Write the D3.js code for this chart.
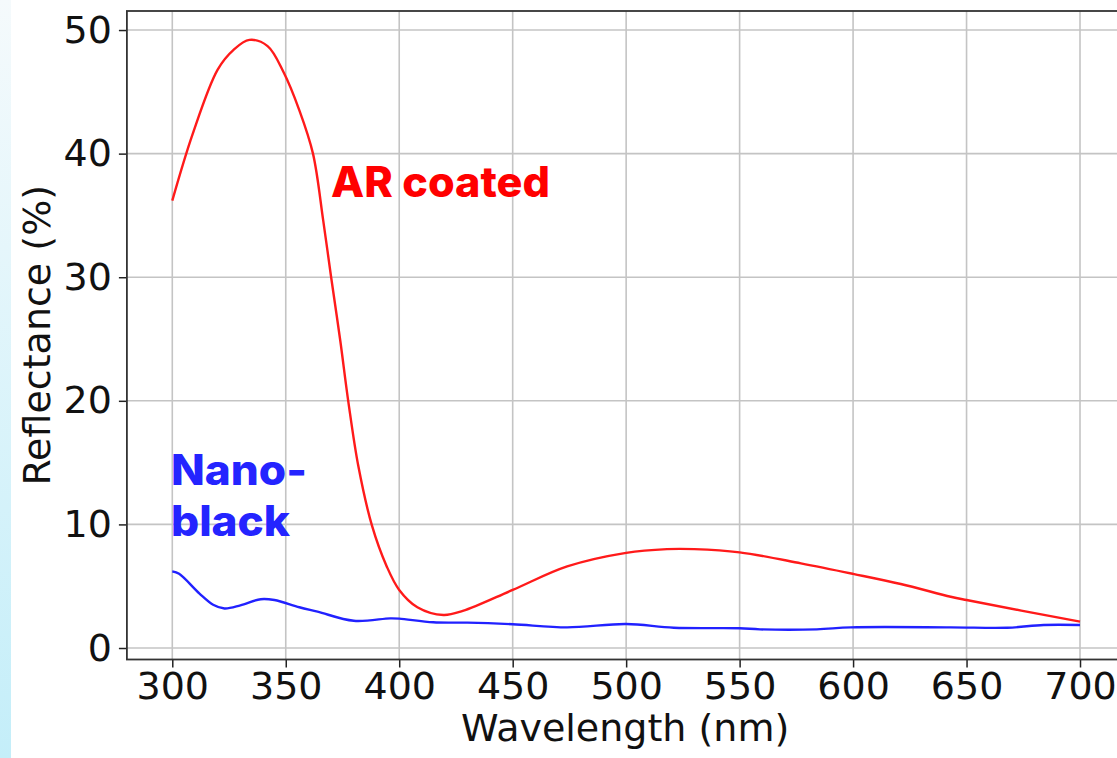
<!DOCTYPE html>
<html><head><meta charset="utf-8">
<script src="https://cdn.jsdelivr.net/npm/d3@7"></script>
<style>html,body{margin:0;padding:0;background:#fff;overflow:hidden}</style>
</head><body>
<svg id="chart" width="1117" height="758"></svg>
<script>
// Data
const arWavelength = [300,309,320,327,334,342,349,356,362,366.5,370,374,377.6,382,388,394.5,400,408,419.5,428,450,474,500,518,530,550,577,600,621,643,650,700];
const arReflect    = [36.2,41.6,46.8,48.4,49.2,48.7,46.6,43.5,40.0,34.6,30.0,24.9,19.9,14.7,9.9,6.6,4.7,3.3,2.67,3.0,4.7,6.6,7.7,8.0,8.0,7.74,6.85,6.0,5.18,4.15,3.88,2.13];
const nbWavelength = [300,303,312,318,323,330,339,345,356,364,380,396,400,415,430,450,474,500,521,550,559,584,599,643,668,684,700];
const nbReflect    = [6.2,6.0,4.4,3.5,3.2,3.45,3.95,3.88,3.3,2.94,2.2,2.4,2.38,2.08,2.05,1.92,1.67,1.94,1.64,1.6,1.51,1.51,1.67,1.67,1.64,1.86,1.86];
const xTicks = [300,350,400,450,500,550,600,650,700];
const yTicks = [0,10,20,30,40,50];
const labels = {x:"Wavelength (nm)", y:"Reflectance (%)", ar:"AR coated", nb1:"Nano-", nb2:"black"};

const svg = d3.select("#chart");
const defs = svg.append("defs");
const grad = defs.append("linearGradient").attr("id","strip").attr("x1",0).attr("y1",0).attr("x2",0).attr("y2",1);
grad.append("stop").attr("offset","0%").attr("stop-color","#f5fafc");
grad.append("stop").attr("offset","100%").attr("stop-color","#c4eef9");
svg.append("rect").attr("x",0).attr("y",0).attr("width",11).attr("height",758).attr("fill","url(#strip)");

const L = 126.9, R = 1125.4, T = 11, B = 659.5;
const x = d3.scaleLinear().domain([280,720]).range([L,R]);
const y = d3.scaleLinear().domain([-0.93,51.54]).range([B,T]);

const font = "'DejaVu Sans', sans-serif";
const fs = 38;

// grid
svg.append("g").selectAll("line").data(xTicks).join("line")
  .attr("x1",d=>x(d)).attr("x2",d=>x(d)).attr("y1",T).attr("y2",B)
  .attr("stroke","#c4c4c4").attr("stroke-width",1.6);
svg.append("g").selectAll("line").data(yTicks).join("line")
  .attr("x1",L).attr("x2",R).attr("y1",d=>y(d)).attr("y2",d=>y(d))
  .attr("stroke","#c4c4c4").attr("stroke-width",1.6);

// axes
const xAxis = d3.axisBottom(x).tickValues(xTicks).tickSize(8).tickPadding(5).tickSizeOuter(0);
const yAxis = d3.axisLeft(y).tickValues(yTicks).tickSize(8).tickPadding(7).tickSizeOuter(0);
const gx = svg.append("g").attr("transform",`translate(0,${B})`).call(xAxis);
const gy = svg.append("g").attr("transform",`translate(${L},0)`).call(yAxis);
[gx,gy].forEach(g=>{
  g.select(".domain").remove();
  g.selectAll(".tick line").attr("stroke","#222").attr("stroke-width",1.5);
  g.selectAll(".tick text").attr("font-family",font).attr("font-size",fs).attr("fill","#111");
});

// frame
svg.append("rect").attr("x",L).attr("y",T).attr("width",R-L).attr("height",B-T)
  .attr("fill","none").attr("stroke","#333").attr("stroke-width",1.8);

// lines
const line = d3.line().curve(d3.curveCatmullRom.alpha(0.5));
svg.append("path").attr("d", line(arWavelength.map((w,i)=>[x(w),y(arReflect[i])])))
  .attr("fill","none").attr("stroke","#ff1a1a").attr("stroke-width",2.4);
svg.append("path").attr("d", line(nbWavelength.map((w,i)=>[x(w),y(nbReflect[i])])))
  .attr("fill","none").attr("stroke","#2121ff").attr("stroke-width",2.4);

// axis labels
svg.append("text").attr("x",(L+R)/2 - 1).attr("y",741).attr("text-anchor","middle")
  .attr("font-family",font).attr("font-size",fs).attr("fill","#111").text(labels.x);
svg.append("text").attr("transform",`translate(50,${(T+B)/2}) rotate(-90)`).attr("text-anchor","middle")
  .attr("font-family",font).attr("font-size",fs).attr("fill","#111").text(labels.y);

// annotations
const afont = "Inter, 'Open Sans', sans-serif";
svg.append("text").attr("x",331).attr("y",197).attr("font-family",afont).attr("font-weight",800)
  .attr("font-size",42).attr("fill","#ff0000").attr("textLength",219).attr("lengthAdjust","spacingAndGlyphs").text(labels.ar);
svg.append("text").attr("x",171).attr("y",485).attr("font-family",afont).attr("font-weight",800)
  .attr("font-size",42).attr("fill","#2424ff").attr("textLength",136).attr("lengthAdjust","spacingAndGlyphs").text(labels.nb1);
svg.append("text").attr("x",171).attr("y",536).attr("font-family",afont).attr("font-weight",800)
  .attr("font-size",42).attr("fill","#2424ff").attr("textLength",119).attr("lengthAdjust","spacingAndGlyphs").text(labels.nb2);
</script>
</body></html>
